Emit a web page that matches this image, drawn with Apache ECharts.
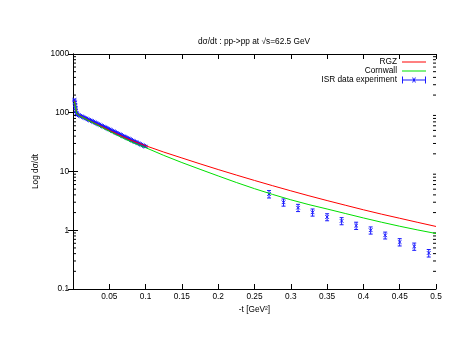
<!DOCTYPE html>
<html>
<head>
<meta charset="utf-8">
<script src="https://cdn.jsdelivr.net/npm/echarts@6/dist/echarts.min.js"></script>
<style>
  html, body { margin: 0; padding: 0; background: #fff; }
  #chart { width: 463px; height: 358px; }
</style>
</head>
<body>
<div id="chart"></div>
<script>
// model curves, -t in GeV^2
const curveT = [0.002, 0.005, 0.01, 0.02, 0.03, 0.04, 0.05, 0.06, 0.07, 0.08, 0.09, 0.1,
  0.125, 0.15, 0.175, 0.2, 0.225, 0.25, 0.275, 0.3, 0.325, 0.35, 0.375, 0.4, 0.425, 0.45, 0.475, 0.5]
const rgz = [160, 98, 88, 76, 66, 58, 50, 44, 38.5, 34, 30.5, 27.5,
  21.4, 17.0, 13.5, 10.8, 8.7, 7.04, 5.73, 4.69, 3.86, 3.2, 2.67, 2.23, 1.88, 1.6, 1.36, 1.16]
const cornwall = [155, 97, 87, 75, 65, 56, 48.5, 42, 36.5, 32, 28.5, 25.5,
  18.8, 14.2, 10.9, 8.4, 6.5, 5.1, 4.07, 3.3, 2.73, 2.3, 1.93, 1.62, 1.37, 1.17, 1.01, 0.88]

// ISR data, small -t (dense)
const lowT = [0.002, 0.0025, 0.003, 0.0035, 0.004, 0.005,
  0.006, 0.008, 0.010, 0.012, 0.014, 0.016, 0.018, 0.020, 0.022, 0.024, 0.026, 0.028,
  0.030, 0.032, 0.034, 0.036, 0.038, 0.040, 0.042, 0.044, 0.046, 0.048, 0.050, 0.052,
  0.054, 0.056, 0.058, 0.060, 0.062, 0.064, 0.066, 0.068, 0.070, 0.072, 0.074, 0.076,
  0.078, 0.080, 0.082, 0.084, 0.086, 0.088, 0.090, 0.092, 0.094, 0.096, 0.098, 0.100]
const lowV = [165, 150, 135, 120, 108, 98,
  93, 91, 88.5, 86.5, 84, 82, 80, 77.5, 75.5, 74, 72, 70,
  68, 66.5, 64.5, 63, 61, 59.5, 58, 56.5, 55, 53.5, 52, 50.5,
  49, 48, 46.5, 45.5, 44, 43, 42, 40.5, 39.5, 38.5, 37.5, 36.5,
  35.5, 34.5, 33.5, 32.5, 31.8, 31, 30.2, 29.4, 28.6, 27.9, 27.2, 26.5]

// ISR data, larger -t
const highT = [0.27, 0.29, 0.31, 0.33, 0.35, 0.37, 0.39, 0.41, 0.43, 0.45, 0.47, 0.49]
const highV = [4.14, 2.99, 2.42, 2.02, 1.68, 1.44, 1.2, 1.0, 0.82, 0.63, 0.53, 0.41]
const highErr = [0.6, 0.42, 0.34, 0.28, 0.23, 0.2, 0.17, 0.14, 0.11, 0.09, 0.075, 0.06]

const xTicks = [0.05, 0.1, 0.15, 0.2, 0.25, 0.3, 0.35, 0.4, 0.45, 0.5]
const decades = [0.1, 1, 10, 100]
const minorMult = [2, 3, 4, 5, 6, 7, 8, 9]

const FONT = 'Liberation Sans'
const FS = 8.3
const BLUE = '#1a1aff'

const expData = lowT.map((t, i) => [t, lowV[i], lowV[i] * 0.035])
  .concat(highT.map((t, i) => [t, highV[i], highErr[i]]))

const minorTicks = []
decades.forEach(d => minorMult.forEach(m => minorTicks.push([0, d * m])))

function renderErr(params, api) {
  const x = api.value(0), y = api.value(1), e = api.value(2)
  const p = api.coord([x, y])
  const lo = api.coord([x, y - e])
  const hi = api.coord([x, y + e])
  const c = 2, m = 1.8
  const st = { stroke: BLUE, lineWidth: 1 }
  return {
    type: 'group',
    children: [
      { type: 'line', shape: { x1: p[0], y1: lo[1], x2: p[0], y2: hi[1] }, style: st },
      { type: 'line', shape: { x1: p[0] - c, y1: lo[1], x2: p[0] + c, y2: lo[1] }, style: st },
      { type: 'line', shape: { x1: p[0] - c, y1: hi[1], x2: p[0] + c, y2: hi[1] }, style: st },
      { type: 'line', shape: { x1: p[0] - m, y1: p[1] - m, x2: p[0] + m, y2: p[1] + m }, style: st },
      { type: 'line', shape: { x1: p[0] - m, y1: p[1] + m, x2: p[0] + m, y2: p[1] - m }, style: st }
    ]
  }
}

// gnuplot style minor ticks on the log axis, both sides
function renderMinor(params, api) {
  const l = api.coord([0, api.value(1)])
  const r = api.coord([0.5, api.value(1)])
  const st = { stroke: '#000', lineWidth: 1 }
  return {
    type: 'group',
    children: [
      { type: 'line', shape: { x1: l[0], y1: l[1], x2: l[0] + 3, y2: l[1] }, style: st },
      { type: 'line', shape: { x1: r[0] - 3, y1: r[1], x2: r[0], y2: r[1] }, style: st }
    ]
  }
}

const chart = echarts.init(document.getElementById('chart'))

const axisCommon = {
  axisLine: { show: true, lineStyle: { color: '#000', width: 1 } },
  axisTick: { show: true, inside: true, length: 5, lineStyle: { color: '#000' } },
  splitLine: { show: false }
}
const txt = { fontFamily: FONT, fontSize: FS, color: '#000' }

const option = {
  animation: false,
  backgroundColor: '#fff',
  title: {
    text: 'dσ/dt : pp->pp at √s=62.5 GeV',
    left: 193,
    top: 33,
    textStyle: { ...txt, fontWeight: 'normal' }
  },
  legend: {
    orient: 'vertical',
    right: 37,
    top: 58,
    padding: 0,
    align: 'right',
    itemWidth: 24,
    itemHeight: 7,
    itemGap: 1,
    textStyle: { ...txt, lineHeight: 7 },
    data: [
      { name: 'RGZ', icon: 'path://M0,3 L24,3 L24,4 L0,4 Z' },
      { name: 'Cornwall', icon: 'path://M0,3 L24,3 L24,4 L0,4 Z' },
      {
        name: 'ISR data experiment',
        icon: 'path://M0,3 L24,3 L24,4 L0,4 Z M0,0 L1,0 L1,7 L0,7 Z M23,0 L24,0 L24,7 L23,7 Z M10,1 L11,1 L14,6 L13,6 Z M13,1 L14,1 L11,6 L10,6 Z'
      }
    ]
  },
  grid: { left: 73, right: 27, top: 54, bottom: 69 },
  xAxis: [{
    ...axisCommon,
    type: 'value',
    min: 0,
    max: 0.5,
    interval: 0.05,
    name: '-t [GeV²]',
    nameLocation: 'middle',
    nameGap: 16,
    nameTextStyle: txt,
    axisLabel: {
      ...txt, margin: 4,
      formatter: v => (xTicks.indexOf(+v.toFixed(2)) >= 0 ? String(+v.toFixed(2)) : '')
    }
  }, {
    ...axisCommon,
    type: 'value',
    position: 'top',
    min: 0,
    max: 0.5,
    interval: 0.05,
    axisLabel: { show: false }
  }],
  yAxis: [{
    ...axisCommon,
    type: 'log',
    logBase: 10,
    min: 0.1,
    max: 1000,
    name: 'Log dσ/dt',
    nameLocation: 'middle',
    nameGap: 27,
    nameTextStyle: txt,
    axisLabel: { ...txt, margin: 4, formatter: v => String(v) }
  }, {
    ...axisCommon,
    type: 'log',
    logBase: 10,
    position: 'right',
    min: 0.1,
    max: 1000,
    axisLabel: { show: false }
  }],
  series: [{
    name: 'RGZ',
    type: 'line',
    data: curveT.map((t, i) => [t, rgz[i]]),
    showSymbol: false,
    symbol: 'none',
    color: '#ff0000',
    lineStyle: { width: 1, color: '#ff0000' }
  }, {
    name: 'Cornwall',
    type: 'line',
    data: curveT.map((t, i) => [t, cornwall[i]]),
    showSymbol: false,
    symbol: 'none',
    color: '#00e000',
    lineStyle: { width: 1, color: '#00e000' }
  }, {
    name: 'ISR data experiment',
    type: 'custom',
    color: BLUE,
    data: expData,
    renderItem: renderErr,
    encode: { x: 0, y: 1 }
  }, {
    name: 'minor',
    type: 'custom',
    data: minorTicks,
    renderItem: renderMinor,
    encode: { x: 0, y: 1 },
    silent: true
  }]
}

chart.setOption(option)
</script>
</body>
</html>
